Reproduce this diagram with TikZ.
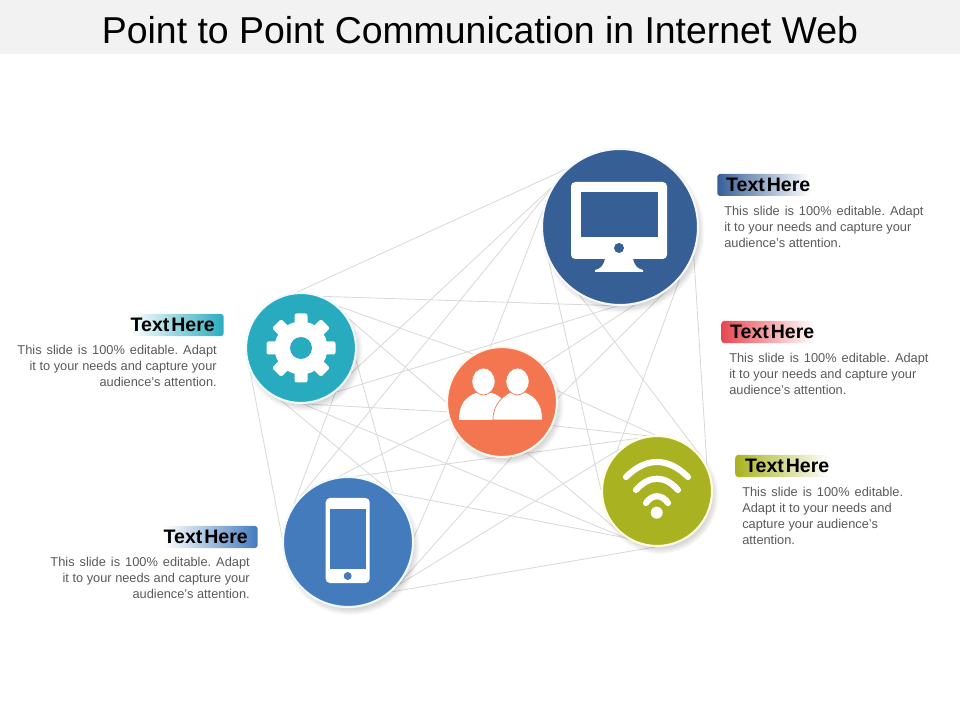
\documentclass[tikz,border=0pt]{standalone}
\usepackage{fontspec}
\setmainfont{Liberation Sans}
\usepackage{xcolor}
\usetikzlibrary{positioning}
\pgfdeclarelayer{lines}
\pgfsetlayers{lines,main}
\definecolor{monblue}{HTML}{365F96}
\definecolor{gearteal}{HTML}{29ABBF}
\definecolor{peopleorange}{HTML}{F47650}
\definecolor{wifigreen}{HTML}{A9B220}
\definecolor{phoneblue}{HTML}{447BBD}
\definecolor{headred}{HTML}{E8474F}
\definecolor{bodygray}{HTML}{595959}
\definecolor{linkgray}{HTML}{D9D9D9}
\definecolor{titleband}{HTML}{F2F2F2}
\newcommand{\tightwords}{\spaceskip=.1em\relax}
\newcommand{\widewords}{\frenchspacing\spaceskip=.39em\relax}
\tikzset{
  hub/.style={circle, inner sep=0pt, line width=1.5pt},
  link/.style={draw=linkgray, line width=0.6pt},
  headbar/.style={inner sep=0pt, minimum height=0.55cm, rounded corners=2pt, text=black,
    font=\bfseries\fontsize{13.9}{16}\selectfont},
  blurb/.style={inner sep=0pt, text=bodygray, font=\fontsize{9.1}{11.4}\selectfont}
}
\begin{document}
\begin{tikzpicture}[x=0.025cm, y=-0.025cm]
\useasboundingbox (0,0) rectangle (960,720);
\fill[titleband] (0,0) rectangle (960,54);
\node[font=\fontsize{26.6}{30}\selectfont, inner sep=0pt] (title) at (480,30) {Point to Point Communication in Internet Web};

% hubs
\node[hub, minimum size=3.9cm, fill=monblue, draw=blue!3] (mon) at (620,227) {};
\node[hub, minimum size=2.75cm, fill=gearteal, draw=cyan!6] (gear) at (301,348) {};
\node[hub, minimum size=2.75cm, fill=peopleorange, draw=orange!6] (people) at (502,402) {};
\node[hub, minimum size=2.75cm, fill=wifigreen, draw=yellow!12] (wifi) at (657,491) {};
\node[hub, minimum size=3.25cm, fill=phoneblue, draw=cyan!6] (phone) at (348,542) {};

% links and shadows go below the hubs
\begin{pgfonlayer}{lines}
\draw[link] (mon.133) -- (gear.94);
\draw[link] (mon.264) -- (gear.67);
\draw[link] (gear.48) -- (people.121);
\draw[link] (gear.31) -- (people.180);
\draw[link] (gear.274) -- (people.190);
\draw[link] (gear.272) -- (wifi.240);
\draw[link] (gear.249) -- (phone.48);
\draw[link] (gear.348) -- (phone.47);
\draw[link] (gear.205) -- (phone.176);
\draw[link] (mon.268) -- (gear.308);
\draw[link] (phone.145) -- (gear.308);
\draw[link] (mon.150) -- (gear.333);
\draw[link] (mon.152) -- (phone.136);
\draw[link] (mon.168) -- (people.102);
\draw[link] (mon.206) -- (wifi.179);
\draw[link] (mon.239) -- (wifi.40);
\draw[link] (mon.319) -- (wifi.136);
\draw[link] (mon.339) -- (wifi.27);
\draw[link] (mon.281) -- (people.42);
\draw[link] (mon.305) -- (people.4);
\draw[link] (people.12) -- (wifi.92);
\draw[link] (people.335) -- (wifi.100);
\draw[link] (phone.84) -- (wifi.110);
\draw[link] (people.280) -- (phone.320);
\draw[link] (people.218) -- (phone.4);
\draw[link] (people.198) -- (phone.137);
\draw[link] (people.296) -- (wifi.237);
\draw[link] (phone.48) -- (wifi.237);
\draw[link] (phone.311) -- (wifi.268);
\draw[link] (phone.319) -- (wifi.131);
\foreach \hubname/\hubrad in {mon/78, gear/55, people/55, wifi/55, phone/65}
  \foreach \k in {0,...,7}
    \fill[black, opacity=0.022] ([shift={(3,4.5)}]\hubname.center) circle[radius=\hubrad+3.5-\k];
\end{pgfonlayer}

% monitor icon
\fill[white, rounded corners=3] (571,182) rectangle (667,259);
\fill[monblue] (581,192) rectangle (658,237);
\fill[monblue] (619,248) circle[radius=5];
\fill[white] (605,258) .. controls (604,266) and (600,269) .. (595,270) -- (595,272) -- (643,272) -- (643,270) .. controls (638,269) and (634,266) .. (633,258) -- cycle;

% gear icon
\fill[white] (gear.center) circle[radius=26.5];
\foreach \a in {0,45,...,315}
  \fill[white, shift={(gear.center)}, rotate=\a, rounded corners=1.5] (-6.5,-34.5) rectangle (6.5,-20);
\fill[gearteal] (gear.center) circle[radius=11];

% people icon
\fill[white] (459,420) .. controls (459,405) and (465,397) .. (476,393) -- (492,393) .. controls (500,396) and (505,400) .. (510,408) -- (510,420) -- cycle;
\filldraw[fill=white, draw=peopleorange, line width=0.5pt] (493,420) .. controls (493,404) and (503,396) .. (511,392) -- (525,392) .. controls (536,396) and (542.5,405) .. (542.5,420) -- cycle;
\filldraw[fill=white, draw=peopleorange, line width=0.5pt] (483.5,381.5) ellipse[x radius=11.5, y radius=13.5];
\filldraw[fill=white, draw=peopleorange, line width=0.5pt] (517.5,381.5) ellipse[x radius=11.5, y radius=13.5];

% wifi icon
\draw[white, line width=4.4pt, line cap=round] (626,477) .. controls (646,457) and (668,457) .. (688,477);
\draw[white, line width=4.4pt, line cap=round] (636,490) .. controls (649,475) and (665,475) .. (678,490);
\draw[white, line width=4.4pt, line cap=round] (646,503) .. controls (652,494) and (662,494) .. (668,503);
\fill[white] (656.7,512.7) circle[radius=6];

% phone icon
\fill[white, rounded corners=3] (325.7,498) rectangle (369.7,583);
\fill[phoneblue] (330,508.7) rectangle (366,569);
\fill[phoneblue] (347.7,576) circle[radius=4];

% labels
\node[headbar, anchor=west, left color=monblue, right color=white, text width=2.325cm, align=right] (monhead) at (717,185) {\tightwords Text Here};
\node[blurb, anchor=north west, align=left] (montext) at (724,206) {\widewords This slide is 100\% editable. Adapt\\it to your needs and capture your\\audience's attention.};
\node[headbar, anchor=west, left color=headred, right color=white, text width=2.325cm, align=right] (peoplehead) at (721,332) {\tightwords Text Here};
\node[blurb, anchor=north west, align=left] (peopletext) at (729,353) {\widewords This slide is 100\% editable. Adapt\\it to your needs and capture your\\audience's attention.};
\node[headbar, anchor=west, left color=wifigreen, right color=white, text width=2.35cm, align=right] (wifihead) at (735,466) {\tightwords Text Here};
\node[blurb, anchor=north west, align=left] (wifitext) at (742,487) {\widewords This slide is 100\% editable.\\Adapt it to your needs and\\capture your audience's\\attention.};
\node[headbar, anchor=east, left color=white, right color=gearteal, text width=2.325cm, align=left] (gearhead) at (224,325) {\tightwords Text Here};
\node[blurb, anchor=north east, align=right] (geartext) at (217,345) {\widewords This slide is 100\% editable. Adapt\\it to your needs and capture your\\audience's attention.};
\node[headbar, anchor=east, left color=white, right color=phoneblue, text width=2.35cm, align=left] (phonehead) at (258,537) {\tightwords Text Here};
\node[blurb, anchor=north east, align=right] (phonetext) at (250,557) {\widewords This slide is 100\% editable. Adapt\\it to your needs and capture your\\audience's attention.};
\end{tikzpicture}
\end{document}
